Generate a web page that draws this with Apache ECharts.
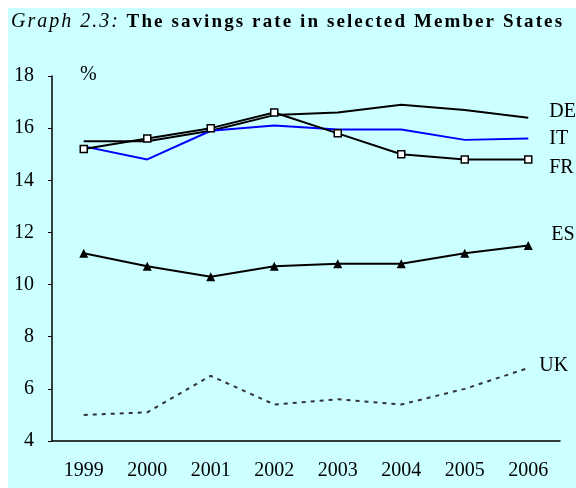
<!DOCTYPE html>
<html>
<head>
<meta charset="utf-8">
<script src="https://cdn.jsdelivr.net/npm/echarts@6/dist/echarts.min.js"></script>
<style>html,body{margin:0;padding:0;background:#fff;overflow:hidden}#chart{width:576px;height:488px}</style>
</head>
<body>
<div id="chart"></div>
<script>
var years = ['1999', '2000', '2001', '2002', '2003', '2004', '2005', '2006'];
var de = [15.5, 15.5, 15.9, 16.5, 16.6, 16.9, 16.7, 16.4];
var it = [15.3, 14.8, 15.9, 16.1, 15.95, 15.95, 15.55, 15.6];
var fr = [15.2, 15.6, 16.0, 16.6, 15.8, 15.0, 14.8, 14.8];
var es = [11.2, 10.7, 10.3, 10.7, 10.8, 10.8, 11.2, 11.5];
var uk = [5.0, 5.1, 6.5, 5.4, 5.6, 5.4, 6.0, 6.8];

(function(){
	var serif = 'Liberation Serif';
	var chart = echarts.init(document.getElementById('chart'));

	// the printed title is letter-spaced, so every character gets its own rich token
	function spaced(str, key) {
		return str.split('').map(function(c){ return '{' + key + '|' + c + '}'; }).join('');
	}

	function endLabel(dx, dy) {
		return {
			show: true,
			formatter: '{a}',
			fontFamily: serif,
			fontSize: 20,
			color: '#000',
			offset: [dx, dy]
		};
	}

	var option = {
		animation: false,
		backgroundColor: '#fff',
		graphic: [
			{ type: 'rect', z: -10, silent: true, shape: { x: 8, y: 8, width: 568, height: 480 }, style: { fill: '#ccffff' } },
			{
				type: 'text', left: 11, top: 12,
				style: {
					text: spaced('Graph 2.3:', 'i') + '  ' + spaced('The savings rate in selected Member States', 'b'),
					rich: {
						i: { fontFamily: serif, fontStyle: 'italic', fontSize: 20, color: '#000', padding: [0, 1, 0, 1] },
						b: { fontFamily: serif, fontWeight: 'bold', fontSize: 19, color: '#000', padding: [0, 1.05, 0, 1.05] }
					}
				}
			}
		],
		grid: { left: 52, right: 16, top: 76, bottom: 47 },
		xAxis: {
			type: 'category',
			data: years,
			boundaryGap: true,
			axisLine: { lineStyle: { color: '#000', width: 1.5 } },
			axisTick: { inside: true, length: 7, interval: 0, lineStyle: { color: '#000' } },
			axisLabel: { fontFamily: serif, fontSize: 20, color: '#000', margin: 20, interval: 0 },
			splitLine: { show: false }
		},
		yAxis: {
			type: 'value',
			min: 4,
			max: 18,
			interval: 2,
			name: '%',
			nameLocation: 'end',
			nameGap: 1,
			nameTextStyle: { fontFamily: serif, fontSize: 20, color: '#000', align: 'left', verticalAlign: 'middle', padding: [0, 0, 0, 28] },
			axisLine: { show: true, lineStyle: { color: '#000', width: 1.5 } },
			axisTick: { show: true, length: 4, lineStyle: { color: '#000' } },
			axisLabel: { fontFamily: serif, fontSize: 20, color: '#000', margin: 18 },
			splitLine: { show: false }
		},
		series: [{
			name: 'DE',
			type: 'line',
			data: de,
			showSymbol: false,
			lineStyle: { color: '#000', width: 2 },
			itemStyle: { color: '#000' },
			endLabel: endLabel(13, -6)
		}, {
			name: 'IT',
			type: 'line',
			data: it,
			showSymbol: false,
			lineStyle: { color: '#0000ff', width: 2 },
			itemStyle: { color: '#0000ff' },
			endLabel: endLabel(13, 0)
		}, {
			name: 'FR',
			type: 'line',
			data: fr,
			symbol: 'rect',
			symbolSize: 7,
			lineStyle: { color: '#000', width: 2 },
			itemStyle: { color: '#fff', borderColor: '#000', borderWidth: 1.5 },
			endLabel: endLabel(13, 8)
		}, {
			name: 'ES',
			type: 'line',
			data: es,
			symbol: 'triangle',
			symbolSize: 9,
			lineStyle: { color: '#000', width: 2 },
			itemStyle: { color: '#000' },
			endLabel: endLabel(15, -11)
		}, {
			name: 'UK',
			type: 'line',
			data: uk,
			showSymbol: false,
			lineStyle: { color: '#333', width: 2, type: [4, 5] },
			itemStyle: { color: '#333' },
			endLabel: endLabel(3, -2)
		}]
	};

	chart.setOption(option);
})();
</script>
</body>
</html>
